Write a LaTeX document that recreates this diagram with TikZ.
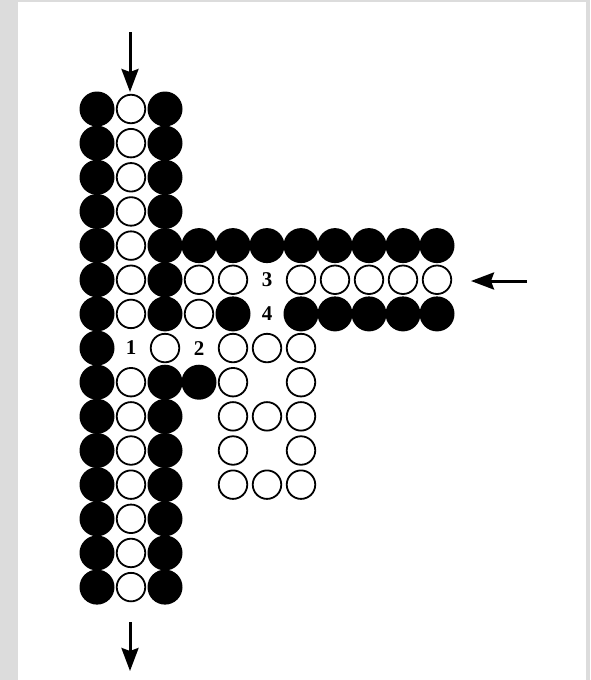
\documentclass[tikz,border=0pt]{standalone}
\usepackage{fontspec}
\setmainfont{Liberation Serif}
\usetikzlibrary{arrows.meta}
\definecolor{bggray}{RGB}{220,220,220}
\newcommand{\bigdigit}{\fontsize{21pt}{23pt}\selectfont\bfseries}
\tikzset{
  blackdot/.style={circle, fill=black, minimum size=35pt, inner sep=0pt},
  whitedot/.style={circle, draw=black, line width=1.8pt, fill=white, minimum size=28.5pt, inner sep=0pt},
  digit/.style={inner sep=0pt, font={\bigdigit}},
  flow/.style={line width=3pt, -{Stealth[length=23pt,width=17pt,inset=3pt]}}
}
\begin{document}
\begin{tikzpicture}
\useasboundingbox (0,0) rectangle (590pt,-680pt);
\fill[bggray] (0,0) rectangle (590pt,-680pt);
\fill[white] (18pt,-2pt) rectangle (586pt,-680pt);
\begin{scope}[shift={(97pt,-109pt)}, x=34pt, y=-34.15pt]
  % vertical channel
  \foreach \r in {0,...,14} {
    \node[blackdot] (b0-\r) at (0,\r) {};
  }
  \foreach \r in {0,...,6,8,9,10,11,12,13,14} {
    \node[whitedot] (w1-\r) at (1,\r) {};
  }
  \foreach \r in {0,1,2,3,4,5,6,8,9,10,11,12,13,14} {
    \node[blackdot] (b2-\r) at (2,\r) {};
  }
  \node[whitedot] (w2-7) at (2,7) {};
  % horizontal channel
  \foreach \c in {3,...,10} {
    \node[blackdot] (b\c-4) at (\c,4) {};
  }
  \foreach \c in {3,4,6,7,8,9,10} {
    \node[whitedot] (w\c-5) at (\c,5) {};
  }
  \node[whitedot] (w3-6) at (3,6) {};
  \foreach \c in {4,6,7,8,9,10} {
    \node[blackdot] (b\c-6) at (\c,6) {};
  }
  % side chamber
  \node[blackdot] (b3-8) at (3,8) {};
  \foreach \c/\r in {4/7,5/7,6/7, 4/8,6/8, 4/9,5/9,6/9, 4/10,6/10, 4/11,5/11,6/11} {
    \node[whitedot] (w\c-\r) at (\c,\r) {};
  }
  % labels
  \node[digit] (l1) at (1,7) {1};
  \node[digit] (l2) at (3,7) {2};
  \node[digit] (l3) at (5,5) {3};
  \node[digit] (l4) at (5,6) {4};
\end{scope}
% arrows
\coordinate (ta) at (130pt,-32pt);
\coordinate (tb) at (130pt,-92pt);
\coordinate (ba) at (130pt,-622pt);
\coordinate (bb) at (130pt,-671pt);
\coordinate (ra) at (527pt,-281pt);
\coordinate (rb) at (471pt,-281pt);
\draw[flow] (ta) -- (tb);
\draw[flow] (ba) -- (bb);
\draw[flow] (ra) -- (rb);
\end{tikzpicture}
\end{document}
